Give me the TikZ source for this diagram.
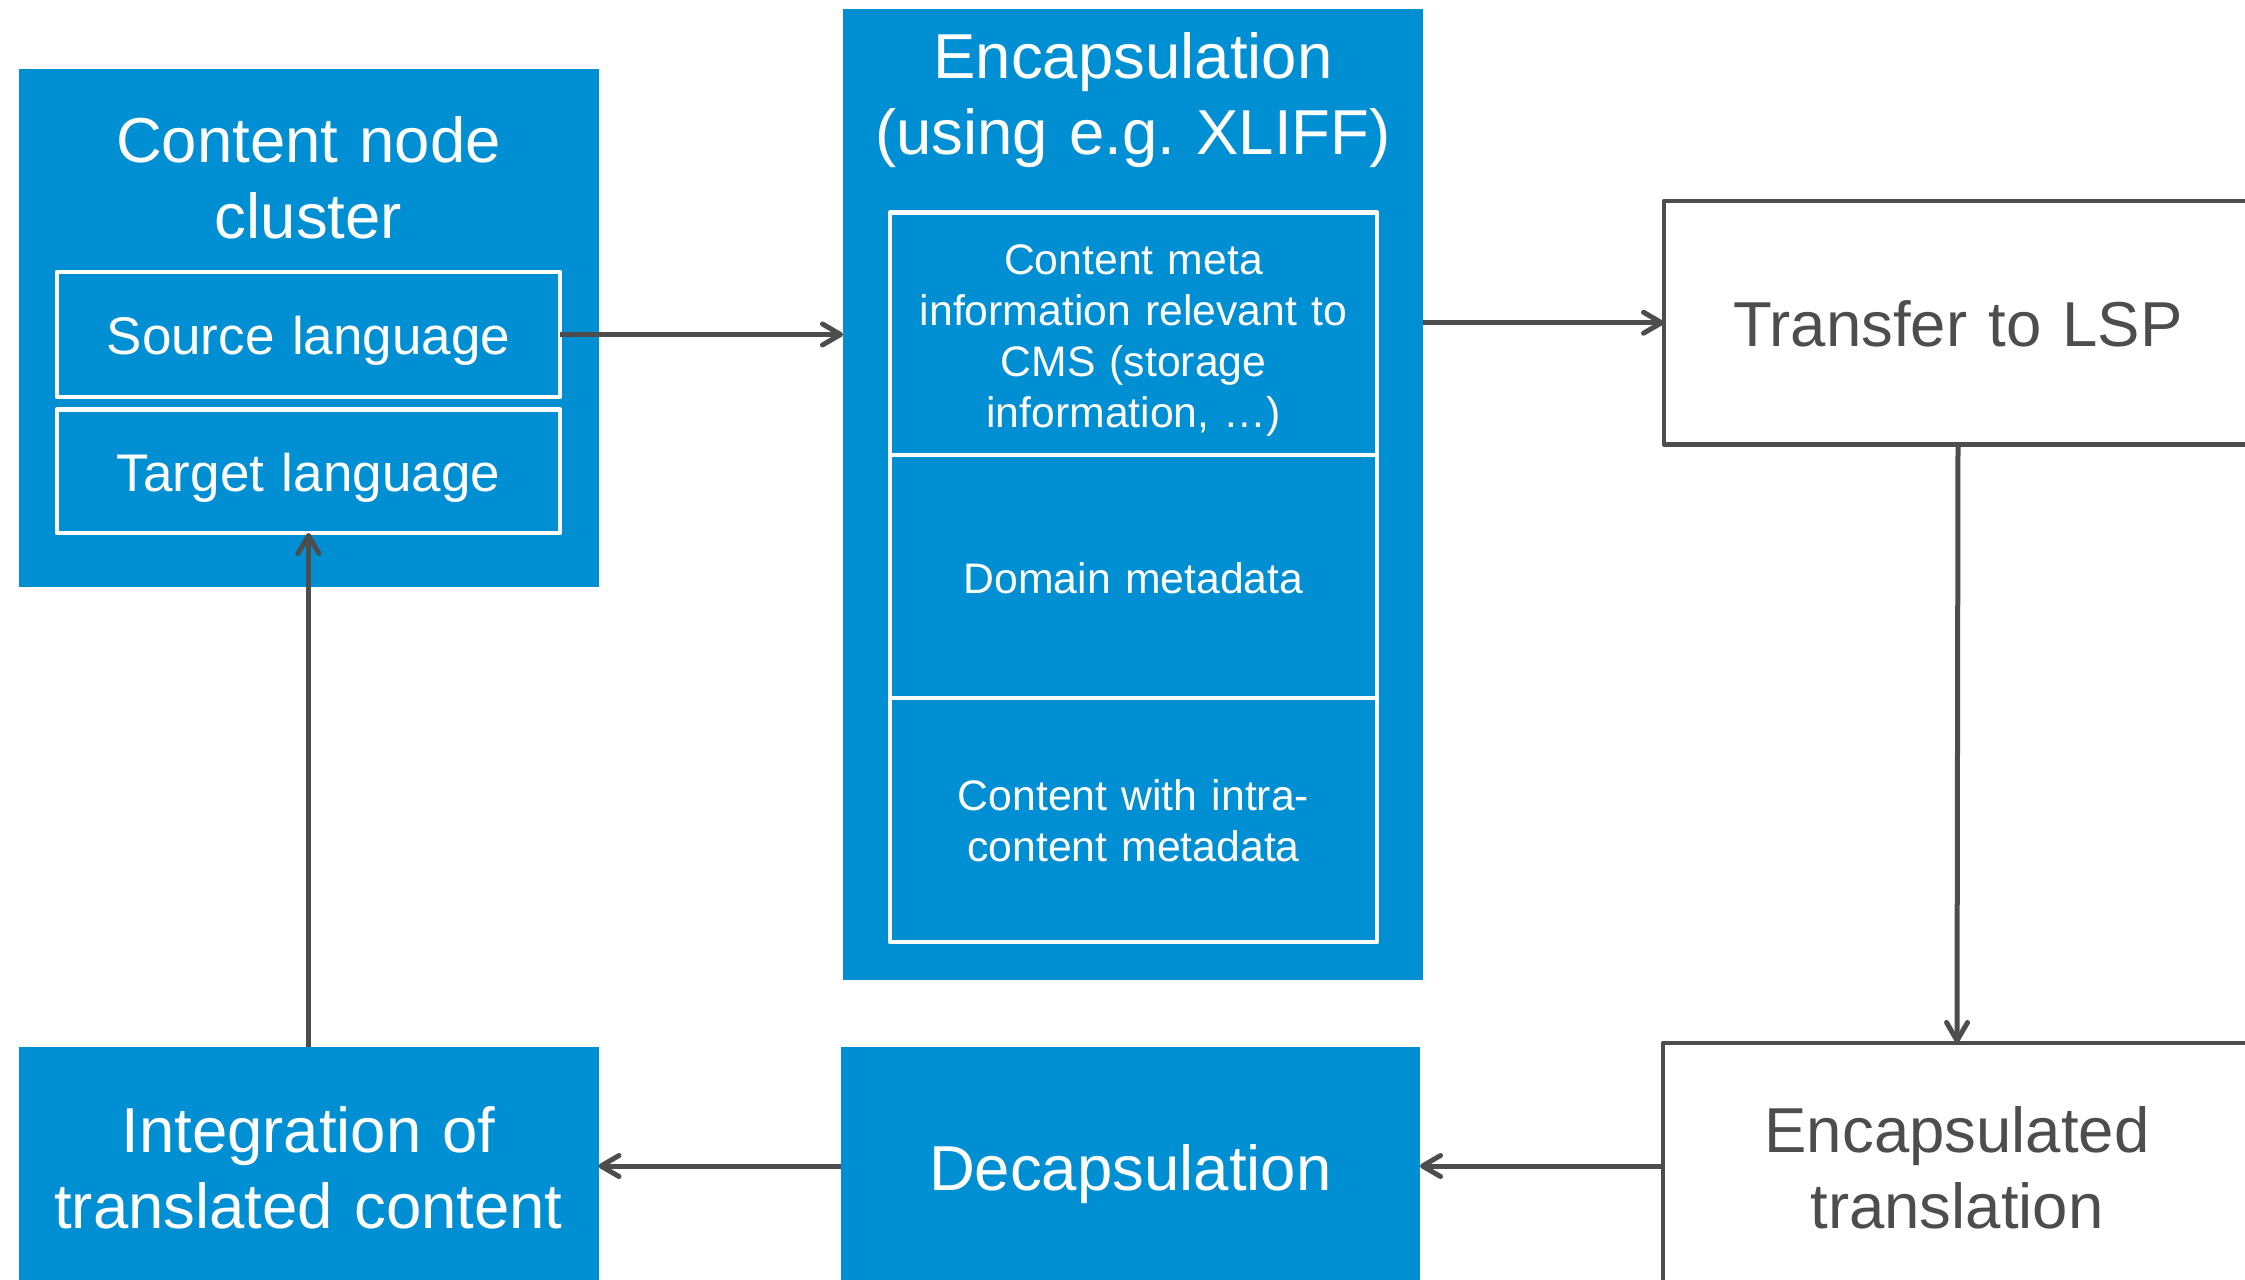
\documentclass[tikz,border=0pt]{standalone}
\usepackage{fontspec}
\setmainfont{Liberation Sans}
\usetikzlibrary{arrows.meta}
\definecolor{cblue}{RGB}{0,143,210}
\definecolor{cgray}{RGB}{77,77,77}
\frenchspacing
\tikzset{
  bluebox/.style={rectangle, fill=cblue, draw=none, inner sep=0pt, outer sep=0pt},
  whitebox/.style={rectangle, draw=white, line width=2.25pt, line join=round, inner sep=0pt, outer sep=0pt},
  graybox/.style={rectangle, draw=cgray, fill=white, line width=2.25pt, line join=round, inner sep=0pt, outer sep=0pt},
  bigtxt/.style={anchor=base, inner sep=0pt, align=center, font=\fontsize{31.75}{38}\selectfont},
  medtxt/.style={anchor=base, inner sep=0pt, align=center, font=\fontsize{26.5}{31.8}\selectfont},
  smalltxt/.style={anchor=base, inner sep=0pt, align=center, font=\fontsize{21.35}{25.65}\selectfont},
  conn/.style={draw=cgray, line width=2.5pt, -{Straight Barb[length=9pt,width=10.5pt,round]}},
}
\begin{document}
\begin{tikzpicture}[x=0.5pt,y=-0.5pt]
\useasboundingbox (0,0) rectangle (2245,1280);
% blue containers
\node[bluebox, minimum width=290pt, minimum height=259.2pt] (cluster) at (308.5,327.9) {};
\node[bluebox, minimum width=290pt, minimum height=485.7pt] (encap) at (1133,494.3) {};
\node[bluebox, minimum width=289.75pt, minimum height=119.4pt] (decap) at (1130.25,1166) {};
\node[bluebox, minimum width=290pt, minimum height=119.4pt] (integ) at (308.5,1166) {};
% inner white boxes
\node[whitebox, minimum width=251.5pt, minimum height=62.5pt] (source) at (308.5,334.5) {};
\node[whitebox, minimum width=251.5pt, minimum height=61.75pt] (target) at (308.5,471.3) {};
\node[whitebox, minimum width=243.5pt, minimum height=121.25pt] (meta) at (1133.5,333.75) {};
\node[whitebox, minimum width=243.5pt, minimum height=121.5pt] (domain) at (1133.5,576.5) {};
\node[whitebox, minimum width=243.5pt, minimum height=122pt] (intra) at (1133.5,820) {};
% gray outlined boxes
\node[graybox, minimum width=294pt, minimum height=121.75pt] (transfer) at (1958,322.75) {};
\node[graybox, minimum width=294pt, minimum height=123pt] (encaps) at (1957,1166) {};
% texts
\node[bigtxt, text=white, text width=290pt] (tcluster) at (308.5,162) {Content node\\cluster};
\node[medtxt, text=white, text width=250pt] (tsource) at (308.5,354) {Source language};
\node[medtxt, text=white, text width=250pt] (ttarget) at (308.5,491) {Target language};
\node[bigtxt, text=white, text width=290pt] (tencap) at (1133,78.5) {Encapsulation\\(using e.g. XLIFF)};
\node[smalltxt, text=white, text width=240pt] (tmeta) at (1133.5,274) {Content meta\\information relevant to\\CMS (storage\\information, …)};
\node[smalltxt, text=white, text width=240pt] (tdomain) at (1133.5,593) {Domain metadata};
\node[smalltxt, text=white, text width=240pt] (tintra) at (1133.5,810) {Content with intra-\\content metadata};
\node[bigtxt, text=cgray, text width=290pt] (ttransfer) at (1958,346) {Transfer to LSP};
\node[bigtxt, text=cgray, text width=290pt] (tencaps) at (1957,1152) {Encapsulated\\translation};
\node[bigtxt, text=white, text width=290pt] (tdecap) at (1130.25,1190) {Decapsulation};
\node[bigtxt, text=white, text width=290pt] (tinteg) at (308.5,1152) {Integration of\\translated content};
% connectors
\draw[conn] (source.east) -- (source.east -| encap.west);
\draw[conn] (encap.east |- transfer.west) -- (transfer.west);
\draw[conn] (transfer.south) -- (encaps.north);
\draw[conn] (encaps.west) -- (decap.east);
\draw[conn] (decap.west) -- (integ.east);
\draw[conn] (integ.north) -- (target.south);
\end{tikzpicture}
\end{document}
